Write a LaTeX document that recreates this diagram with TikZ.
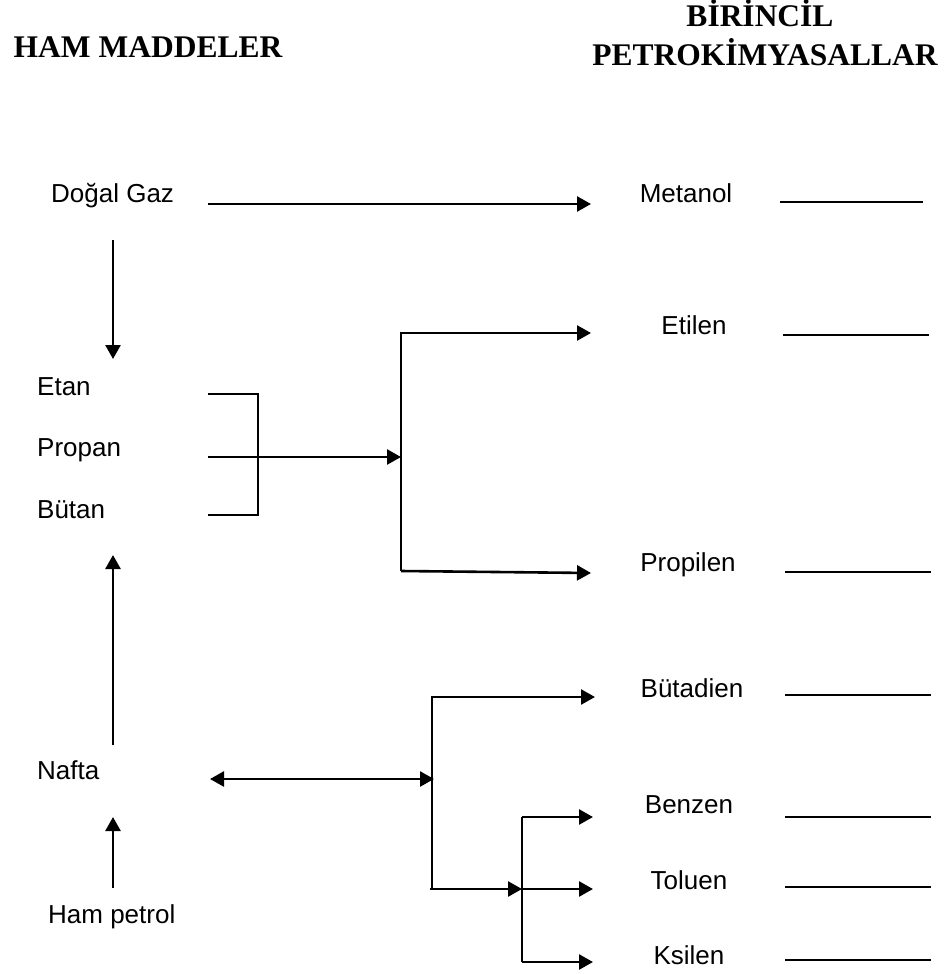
\documentclass[tikz,border=0pt]{standalone}
\usepackage{fontspec}
\setmainfont{Liberation Sans}
\newfontfamily\titlefont{Liberation Serif}
\usetikzlibrary{arrows.meta}

\begin{document}
\begin{tikzpicture}[x=1pt,y=-1pt,
  lbl/.style={font=\fontsize{26}{30}\selectfont, inner sep=0pt},
  ttl/.style={font=\titlefont\bfseries\fontsize{31.5}{38}\selectfont, inner sep=0pt},
  ln/.style={line width=2pt},
  arr/.style={line width=2.6pt, -{Triangle[length=14pt,width=15pt]}},
  darr/.style={line width=2.6pt, {Triangle[length=14pt,width=15pt]}-{Triangle[length=14pt,width=15pt]}},
  blank/.style={line width=1.8pt}]
\useasboundingbox (0,0) rectangle (944,974);

% column headings
\node[ttl, anchor=base] (hm)  at (148,58) {HAM MADDELER};
\node[ttl, anchor=base] (bir) at (760,27) {BİRİNCİL};
\node[ttl, anchor=base] (pk)  at (765,66) {PETROKİMYASALLAR};

% raw materials
\node[lbl, anchor=base west] (dogal)  at (51,202)  {Doğal Gaz};
\node[lbl, anchor=base west] (etan)   at (37,395)  {Etan};
\node[lbl, anchor=base west] (propan) at (37,456)  {Propan};
\node[lbl, anchor=base west] (butan)  at (37,518)  {Bütan};
\node[lbl, anchor=base west] (nafta)  at (37,779)  {Nafta};
\node[lbl, anchor=base west] (ham)    at (48,923)  {Ham petrol};

% primary petrochemicals
\node[lbl, anchor=base] (metanol)  at (686,202) {Metanol};
\node[lbl, anchor=base] (etilen)   at (694,334) {Etilen};
\node[lbl, anchor=base] (propilen) at (688,571) {Propilen};
\node[lbl, anchor=base] (butadien) at (692,697) {Bütadien};
\node[lbl, anchor=base] (benzen)   at (689,813) {Benzen};
\node[lbl, anchor=base] (toluen)   at (689,889) {Toluen};
\node[lbl, anchor=base] (ksilen)   at (689,964) {Ksilen};

% connector end points and junctions
\coordinate (dgOut)  at (208,204);
\coordinate (mtIn)   at (591,204);
\coordinate (dgDown) at (113,240);
\coordinate (etTop)  at (113,359);
\coordinate (brA)    at (208,394);
\coordinate (brB)    at (258,394);
\coordinate (brC)    at (258,515);
\coordinate (brD)    at (208,515);
\coordinate (prOut)  at (208,457);
\coordinate (spl1)   at (401,457);
\coordinate (spl1T)  at (401,332);
\coordinate (spl1B)  at (401,571);
\coordinate (etIn)   at (591,333);
\coordinate (pIn)    at (591,573);
\coordinate (nfUp)   at (113,745);
\coordinate (btLow)  at (113,555);
\coordinate (hpUp)   at (113,888);
\coordinate (nfLow)  at (113,817);
\coordinate (nfOut)  at (210,779);
\coordinate (spl2)   at (434,779);
\coordinate (spl2T)  at (432,696);
\coordinate (spl2B)  at (432,889);
\coordinate (bdIn)   at (595,697);
\coordinate (spl3)   at (522,889);
\coordinate (spl3T)  at (522,817);
\coordinate (spl3B)  at (522,962);
\coordinate (bzIn)   at (593,817);
\coordinate (tlIn)   at (593,889);
\coordinate (ksIn)   at (593,962);

% natural gas routes
\draw[arr] (dgOut) -- (mtIn);
\draw[arr] (dgDown) -- (etTop);

% ethane / propane / butane bracket into the cracker split
\draw[ln] (brA) -- (brB) -- (brC) -- (brD);
\draw[arr] (prOut) -- (spl1);
\draw[ln] (spl1T) -- (spl1B);
\draw[arr] (spl1T |- etIn) -- (etIn);
\draw[arr] (spl1B) -- (pIn);

% naphtha routes
\draw[arr] (nfUp) -- (btLow);
\draw[arr] (hpUp) -- (nfLow);
\draw[darr] (nfOut) -- (spl2);
\draw[ln] (spl2T) -- (spl2B);
\draw[arr] (spl2T |- bdIn) -- (bdIn);
\draw[arr] ([xshift=-2pt]spl2B) -- (spl3);
\draw[ln] (spl3T) -- (spl3B);
\draw[arr] (spl3T) -- (bzIn);
\draw[arr] (spl3) -- (tlIn);
\draw[arr] (spl3B) -- (ksIn);

% answer lines
\draw[blank] (780,202) -- (923,202);
\draw[blank] (783,335) -- (929,335);
\draw[blank] (785,572) -- (931,572);
\draw[blank] (785,695) -- (931,695);
\draw[blank] (785,817) -- (931,817);
\draw[blank] (785,887) -- (931,887);
\draw[blank] (785,960) -- (931,960);
\end{tikzpicture}
\end{document}
